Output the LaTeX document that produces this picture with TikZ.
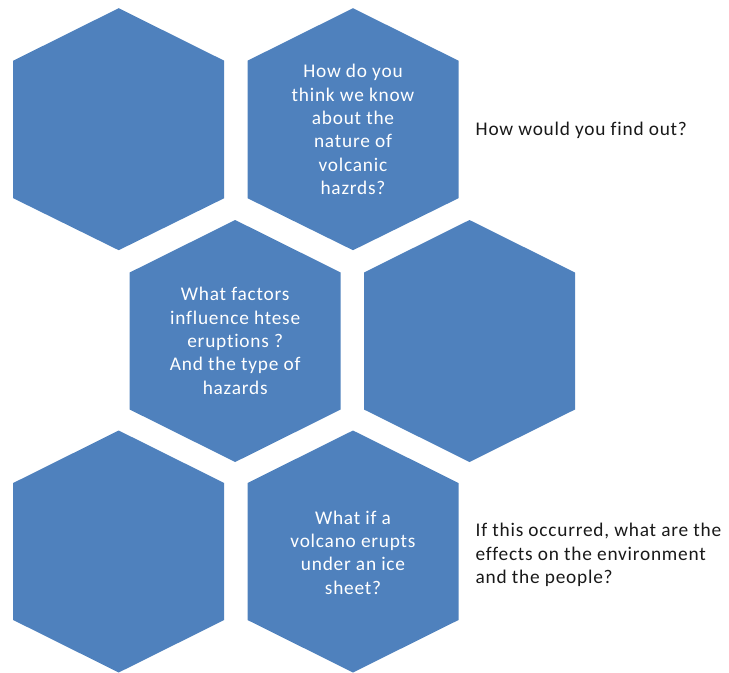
\documentclass[tikz,border=0pt]{standalone}
\usepackage{fontspec}
\setmainfont{Carlito}[LetterSpace=4,Ligatures=NoCommon]
\usepackage{tikz}

\definecolor{hexBlue}{RGB}{79,129,189}

\tikzset{
  hexCell/.style={draw=none, fill=hexBlue},
  hexText/.style={text=white, align=center, font=\fontsize{14.5}{17.5}\selectfont},
  sideText/.style={text=black!90, align=left, anchor=west, font=\fontsize{14.5}{17.5}\selectfont}
}

\begin{document}
\begin{tikzpicture}[x=0.75pt,y=0.75pt,yscale=-1,xscale=1]
\useasboundingbox (0,0) rectangle (729,672); %page is 729 wide and 672 high

%Shape: Hexagon [top left]
\path  [hexCell] (118.7,8.2) -- (224.2,60.7) -- (224.2,198.2) -- (118.7,250.2) -- (13.2,198.2) -- (13.2,60.7) -- cycle ;
%Shape: Hexagon [top middle]
\path  [hexCell] (353,8.2) -- (458.5,60.7) -- (458.5,198.2) -- (353,250.2) -- (247.5,198.2) -- (247.5,60.7) -- cycle ;

%Shape: Hexagon [middle left]
\path  [hexCell] (235.2,220) -- (340.7,272.5) -- (340.7,409.5) -- (235.2,462) -- (129.7,409.5) -- (129.7,272.5) -- cycle ;
%Shape: Hexagon [middle right]
\path  [hexCell] (469.5,220) -- (575,272.5) -- (575,409.5) -- (469.5,462) -- (364,409.5) -- (364,272.5) -- cycle ;

%Shape: Hexagon [bottom left]
\path  [hexCell] (118.7,430.5) -- (224.2,483) -- (224.2,620) -- (118.7,672.5) -- (13.2,620) -- (13.2,483) -- cycle ;
%Shape: Hexagon [bottom middle]
\path  [hexCell] (353,430.5) -- (458.5,483) -- (458.5,620) -- (353,672.5) -- (247.5,620) -- (247.5,483) -- cycle ;


% Text Node
\draw (353,129.5) node [hexText] (knowNature) {How do you\\think we know\\about the\\nature of\\volcanic\\hazrds?};
% Text Node
\draw (235.2,341) node [hexText] (eruptFactors) {What factors\\influence htese\\eruptions ?\\And the type of\\hazards};
% Text Node
\draw (353,552.5) node [hexText] (iceSheet) {What if a\\volcano erupts\\under an ice\\sheet?};
% Text Node
\draw (471,130) node [sideText] (findOut) {How would you find out?};
% Text Node
\draw (471,555) node [sideText] (effects) {If this occurred, what are the\\effects on the environment\\and the people?};


\end{tikzpicture}
\end{document}
